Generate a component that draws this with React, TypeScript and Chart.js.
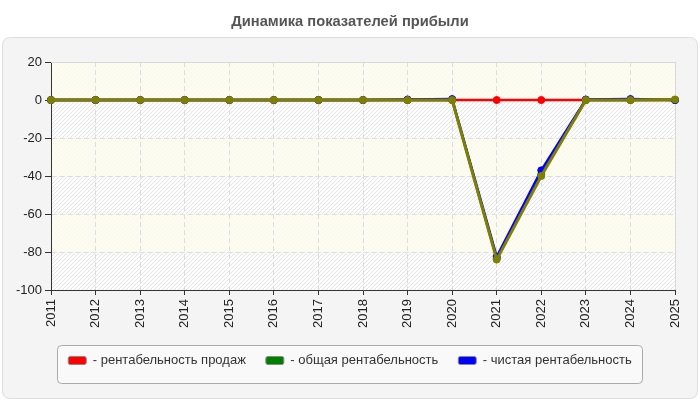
import React, { useEffect, useRef } from "react";
import { Chart, registerables } from "chart.js";

Chart.register(...registerables);

const titleText = "Динамика показателей прибыли";
const years = ["2011", "2012", "2013", "2014", "2015", "2016", "2017", "2018", "2019", "2020", "2021", "2022", "2023", "2024", "2025"];
const seriesNames = ["рентабельность продаж", "общая рентабельность", "чистая рентабельность"];
const salesMargin = [0, 0, 0, 0, 0, 0, 0, 0, 0, 0, 0, 0, 0, 0, 0];
const totalMargin = [0, 0, 0, 0, 0, 0, 0, 0, 0, 0, -83.5, -39, 0, 0, 0];
const netMargin = [0, 0, 0, 0, 0, 0, 0, 0, 0.3, 0.5, -82.5, -37, 0.3, 0.5, 0];
const overlayMargin = [0, 0, 0, 0, 0, 0, 0, 0, 0, 0, -84, -40, 0, 0, 0.3];
const yMin = -100;
const yMax = 20;
const yStep = 20;

const FONT = "'Liberation Sans', Arial, sans-serif";

function roundRectPath(ctx: CanvasRenderingContext2D, x: number, y: number, w: number, h: number, r: number) {
  ctx.beginPath();
  ctx.moveTo(x + r, y);
  ctx.lineTo(x + w - r, y);
  ctx.quadraticCurveTo(x + w, y, x + w, y + r);
  ctx.lineTo(x + w, y + h - r);
  ctx.quadraticCurveTo(x + w, y + h, x + w - r, y + h);
  ctx.lineTo(x + r, y + h);
  ctx.quadraticCurveTo(x, y + h, x, y + h - r);
  ctx.lineTo(x, y + r);
  ctx.quadraticCurveTo(x, y, x + r, y);
  ctx.closePath();
}

function makeHatch(ctx: CanvasRenderingContext2D) {
  const c = document.createElement("canvas");
  c.width = 4;
  c.height = 4;
  const p = c.getContext("2d")!;
  p.fillStyle = "#fdfdfd";
  p.fillRect(0, 0, 4, 4);
  p.strokeStyle = "#e4e4e4";
  p.lineWidth = 1;
  p.beginPath();
  p.moveTo(0, 4);
  p.lineTo(4, 0);
  p.moveTo(-1, 1);
  p.lineTo(1, -1);
  p.moveTo(3, 5);
  p.lineTo(5, 3);
  p.stroke();
  return ctx.createPattern(c, "repeat");
}

const backgroundPlugin = {
  id: "backgroundPanel",
  beforeDraw(chart: any) {
    const { ctx, width, height, chartArea, scales } = chart;
    ctx.save();
    ctx.fillStyle = "#ffffff";
    ctx.fillRect(0, 0, width, height);
    roundRectPath(ctx, 2.5, 37.5, width - 5, height - 39, 8);
    ctx.fillStyle = "#f4f4f4";
    ctx.fill();
    ctx.strokeStyle = "#dddddd";
    ctx.lineWidth = 1;
    ctx.stroke();

    // plot area
    const pat = makeHatch(ctx);
    if (pat) {
      ctx.fillStyle = pat;
      ctx.fillRect(chartArea.left, chartArea.top, chartArea.right - chartArea.left, chartArea.bottom - chartArea.top);
    }
    const y = scales.y;
    const ticks = y.ticks.map((t: any) => t.value).sort((a: number, b: number) => a - b);
    for (let k = 0; k < ticks.length - 1; k++) {
      if (k % 2 === 1) {
        const p1 = y.getPixelForValue(ticks[k]);
        const p2 = y.getPixelForValue(ticks[k + 1]);
        ctx.fillStyle = "rgba(252,252,238,0.85)";
        ctx.fillRect(chartArea.left, p2, chartArea.right - chartArea.left, p1 - p2);
      }
    }

    // legend frame
    const legend = chart.legend;
    if (legend && legend.legendHitBoxes && legend.legendHitBoxes.length) {
      const hb = legend.legendHitBoxes;
      const first = hb[0];
      const last = hb[hb.length - 1];
      const l = first.left - 11;
      const r = last.left + last.width + 11;
      const t = first.top - 9;
      const b = first.top + 29;
      roundRectPath(ctx, Math.round(l) + 0.5, Math.round(t) + 0.5, Math.round(r - l), Math.round(b - t), 4);
      ctx.fillStyle = "#f9f9f9";
      ctx.fill();
      ctx.strokeStyle = "#aaaaaa";
      ctx.stroke();
    }
    ctx.restore();
  },
  beforeDatasetsDraw(chart: any) {
    const { ctx, chartArea } = chart;
    ctx.save();
    ctx.strokeStyle = "#d8d8d8";
    ctx.lineWidth = 1;
    ctx.beginPath();
    ctx.moveTo(chartArea.left, Math.round(chartArea.top) + 0.5);
    ctx.lineTo(Math.round(chartArea.right) + 0.5, Math.round(chartArea.top) + 0.5);
    ctx.lineTo(Math.round(chartArea.right) + 0.5, chartArea.bottom);
    ctx.stroke();
    ctx.restore();
  },
};

export default function App() {
  const canvasRef = useRef<HTMLCanvasElement | null>(null);

  useEffect(() => {
    if (!canvasRef.current) return;
    Chart.defaults.font.family = FONT;
    const mk = (label: string, data: number[], color: string, width: number, order: number) => ({
      label,
      data,
      borderColor: color,
      backgroundColor: color,
      pointBackgroundColor: color,
      pointBorderColor: color,
      pointRadius: 3.5,
      pointBorderWidth: 1,
      borderWidth: width,
      tension: 0,
      order,
      yAxisID: "y",
    });
    const chart = new Chart(canvasRef.current, {
      type: "line",
      data: {
        labels: years,
        datasets: [
          mk(seriesNames[0], salesMargin, "#ff0000", 2.5, 3),
          mk(seriesNames[1], totalMargin, "#008000", 2.5, 2),
          mk(seriesNames[2], netMargin, "#0000ff", 2.5, 1),
          mk("", overlayMargin, "#808000", 3, 0),
        ],
      },
      options: {
        animation: false,
        responsive: true,
        maintainAspectRatio: false,
        events: [],
        layout: { padding: { left: 0, right: 0, top: 0, bottom: 23 } },
        plugins: {
          tooltip: { enabled: false },
          title: {
            display: true,
            text: titleText,
            color: "#555555",
            font: { size: 14.7, weight: "bold", family: FONT },
            padding: { top: 13, bottom: 31.4 },
          },
          legend: {
            position: "bottom",
            labels: {
              boxWidth: 18,
              boxHeight: 8,
              padding: 20,
              color: "#333333",
              useBorderRadius: true,
              borderRadius: 2,
              font: { size: 13, family: FONT },
              filter: (item: any) => item.datasetIndex < 3,
              sort: (a: any, b: any) => a.datasetIndex - b.datasetIndex,
              generateLabels: (ch: any) =>
                ch.data.datasets.map((ds: any, i: number) => ({
                  text: "- " + ds.label,
                  fillStyle: ds.borderColor,
                  strokeStyle: "#888888",
                  lineWidth: 1,
                  borderRadius: 2,
                  fontColor: "#333333",
                  hidden: false,
                  datasetIndex: i,
                })),
            },
          },
        },
        scales: {
          x: {
            type: "category",
            offset: false,
            afterFit: (s: any) => {
              s.height = 44;
            },
            grid: {
              color: "#dddddd",
              tickColor: "#333333",
              tickLength: 5,
              tickBorderDash: [],
            },
            border: { color: "#333333", width: 1, dash: [5, 3] },
            ticks: {
              autoSkip: false,
              minRotation: 90,
              maxRotation: 90,
              padding: 4,
              color: "#222222",
              font: { size: 13, family: FONT },
            },
          },
          y: {
            min: yMin,
            max: yMax,
            afterFit: (s: any) => {
              s.width = 51;
            },
            grid: {
              color: "#dddddd",
              tickColor: "#333333",
              tickLength: 6,
              tickBorderDash: [],
            },
            border: { color: "#333333", width: 1, dash: [5, 3] },
            ticks: {
              stepSize: yStep,
              padding: 3,
              color: "#222222",
              font: { size: 13, family: FONT },
            },
          },
          yRightSpace: {
            position: "right",
            min: yMin,
            max: yMax,
            afterFit: (s: any) => {
              s.width = 25;
            },
            grid: { display: false, drawOnChartArea: false, drawTicks: false },
            border: { display: false },
            ticks: { display: false },
          },
        },
      },
      plugins: [backgroundPlugin],
    } as any);
    return () => chart.destroy();
  }, []);

  return (
    <div style={{ position: "absolute", left: 0, top: 0, width: 700, height: 400 }}>
      <canvas ref={canvasRef} />
    </div>
  );
}
